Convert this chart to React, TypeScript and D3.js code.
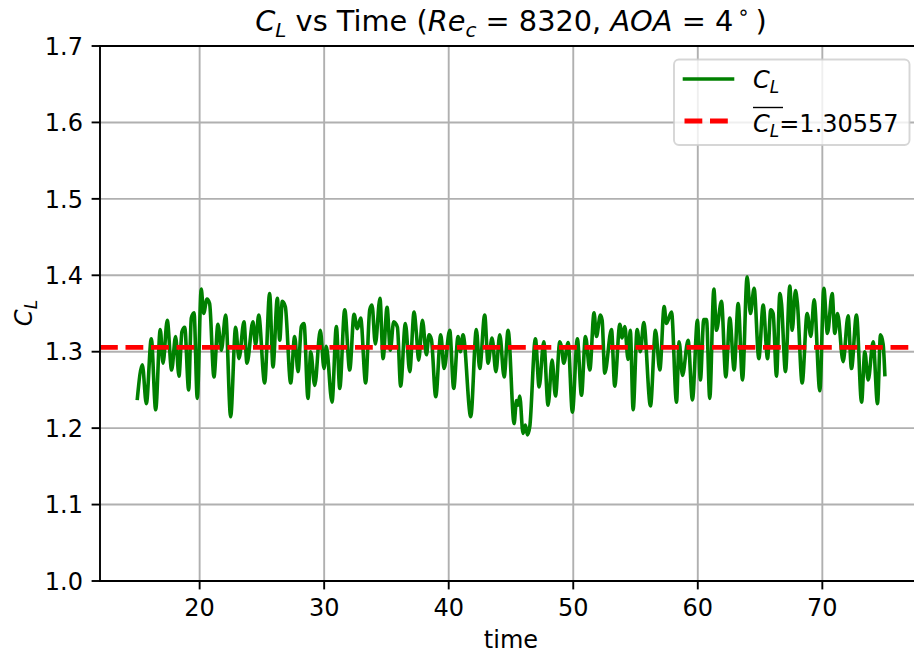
import React from "react";
import * as d3 from "d3";

// time samples (turning points)
const times = [
  15.0, 15.4, 15.72, 16.12, 16.47, 16.84, 17.06, 17.4, 17.75, 18.07, 18.34, 18.58, 18.8, 19.12, 19.33, 19.55, 19.81,
  20.13, 20.32, 20.59, 20.8, 21.15, 21.47, 21.74, 22.09, 22.49, 22.89, 23.16, 23.56, 23.8, 24.28, 24.5, 24.74,
  25.22, 25.62, 25.89, 26.24, 26.43, 26.64, 26.88, 27.31, 27.63, 27.9, 28.17, 28.38, 28.7, 28.92, 29.24, 29.69, 29.99,
  30.17, 30.63, 30.98, 31.25, 31.65, 32.05, 32.4, 32.66, 32.93, 33.33, 33.66, 33.84, 34.11, 34.48, 34.73,
  35.05, 35.31, 35.58, 35.88, 36.14, 36.52, 36.87, 37.22, 37.4, 37.59, 37.89, 38.21, 38.42, 38.61, 38.96, 39.36, 39.63,
  40.08, 40.4, 40.75, 40.94, 41.15, 41.77, 42.22, 42.49, 42.89, 43.16, 43.48, 43.79, 44.1, 44.45, 44.77,
  45.25, 45.44, 45.57, 45.7, 45.97, 46.16, 46.32, 46.51, 46.96, 47.26, 47.63, 47.98, 48.3, 48.57, 48.92, 49.05, 49.24, 49.59, 49.93,
  50.33, 50.66, 50.98, 51.33, 51.67, 51.86, 52.18, 52.32, 52.53, 53.07, 53.33, 53.74, 53.92, 54.14, 54.4, 54.58, 54.81,
  55.13, 55.39, 55.66, 56.2, 56.6, 56.95, 57.3, 57.48, 57.89, 58.29, 58.5, 58.77, 59.22, 59.57, 59.97,
  60.21, 60.48, 60.7, 60.96, 61.29, 61.5, 61.9, 62.25, 62.57, 62.92, 63.24, 63.59, 63.96, 64.23, 64.52,
  64.9, 65.25, 65.6, 65.86, 66.05, 66.32, 66.59, 66.72, 67.04, 67.39, 67.58, 67.84, 68.0, 68.38, 68.78, 69.08, 69.34, 69.8,
  70.12, 70.41, 70.79, 71.0, 71.22, 71.67, 72.07, 72.34, 72.74, 73.15, 73.41, 73.68, 74.08, 74.43, 74.67, 74.88, 75.02,
];

const clValues = [
  1.239, 1.283, 1.232, 1.317, 1.224, 1.329, 1.285, 1.341, 1.276, 1.32, 1.268, 1.326, 1.332, 1.25, 1.344, 1.351, 1.239,
  1.382, 1.35, 1.369, 1.363, 1.267, 1.336, 1.302, 1.348, 1.215, 1.332, 1.291, 1.339, 1.285, 1.339, 1.309, 1.348,
  1.259, 1.376, 1.28, 1.37, 1.315, 1.366, 1.359, 1.259, 1.32, 1.274, 1.333, 1.337, 1.239, 1.3, 1.256, 1.328, 1.278,
  1.307, 1.234, 1.333, 1.252, 1.355, 1.276, 1.349, 1.33, 1.344, 1.259, 1.355, 1.361, 1.31, 1.37, 1.291,
  1.358, 1.302, 1.339, 1.332, 1.255, 1.337, 1.274, 1.352, 1.325, 1.289, 1.341, 1.296, 1.322, 1.316, 1.241, 1.322, 1.278,
  1.328, 1.252, 1.32, 1.3, 1.322, 1.215, 1.329, 1.278, 1.348, 1.285, 1.318, 1.274, 1.322, 1.267, 1.328,
  1.206, 1.236, 1.23, 1.242, 1.193, 1.204, 1.191, 1.202, 1.317, 1.254, 1.313, 1.23, 1.289, 1.242, 1.313, 1.307, 1.285, 1.312, 1.221,
  1.317, 1.243, 1.32, 1.276, 1.351, 1.32, 1.348, 1.341, 1.272, 1.329, 1.255, 1.336, 1.318, 1.333, 1.29, 1.328, 1.224,
  1.329, 1.3, 1.338, 1.229, 1.328, 1.276, 1.359, 1.337, 1.352, 1.234, 1.313, 1.269, 1.315, 1.237, 1.341,
  1.263, 1.342, 1.342, 1.239, 1.382, 1.328, 1.366, 1.267, 1.344, 1.276, 1.363, 1.263, 1.398, 1.35, 1.383,
  1.291, 1.361, 1.291, 1.355, 1.35, 1.268, 1.376, 1.363, 1.274, 1.386, 1.328, 1.38, 1.363, 1.259, 1.35, 1.32, 1.368, 1.249,
  1.383, 1.324, 1.376, 1.324, 1.35, 1.287, 1.347, 1.278, 1.348, 1.234, 1.3, 1.263, 1.313, 1.232, 1.322, 1.31, 1.27,
];

const meanCL = 1.30557;
const meanLabel = "1.30557";

const xTicks = [20, 30, 40, 50, 60, 70];
const xTickLabels = ["20", "30", "40", "50", "60", "70"];
const yTicks = [1.0, 1.1, 1.2, 1.3, 1.4, 1.5, 1.6, 1.7];
const yTickLabels = ["1.0", "1.1", "1.2", "1.3", "1.4", "1.5", "1.6", "1.7"];

const FONT = "'DejaVu Sans', sans-serif";

export default function App() {
  const W = 914;
  const H = 657;
  const left = 100;
  const top = 46;
  const bottom = 581;
  const right = 100 + 66 * 12.454;

  const x = d3.scaleLinear().domain([12, 78]).range([left, right]);
  const y = d3.scaleLinear().domain([1.0, 1.7]).range([bottom, top]);

  const pts: [number, number][] = times.map((t, i) => [t, clValues[i]]);
  const linePath =
    d3
      .line<[number, number]>()
      .x((d) => x(d[0]))
      .y((d) => y(d[1]))
      .curve(d3.curveMonotoneX)(pts) || "";

  const gridColor = "#b0b0b0";
  const fs = 24;
  const subFs = 17;
  const tickLen = 8.4;

  return (
    <svg
      width={W}
      height={H}
      viewBox={`0 0 ${W} ${H}`}
      style={{ position: "absolute", left: 0, top: 0, background: "#fff" }}
      fontFamily={FONT}
    >
      <rect x={0} y={0} width={W} height={H} fill="#fff" />
      <defs>
        <clipPath id="plotClip">
          <rect x={left} y={top} width={right - left} height={bottom - top} />
        </clipPath>
      </defs>

      {/* grid */}
      <g stroke={gridColor} strokeWidth={1.9}>
        {xTicks.map((t) => (
          <line key={"gx" + t} x1={x(t)} x2={x(t)} y1={top} y2={bottom} />
        ))}
        {yTicks.map((t) => (
          <line key={"gy" + t} x1={left} x2={right} y1={y(t)} y2={y(t)} />
        ))}
      </g>

      {/* data */}
      <g clipPath="url(#plotClip)">
        <path d={linePath} fill="none" stroke="#008000" strokeWidth={3.6} strokeLinejoin="round" strokeLinecap="square" />
        <line
          x1={x(12)}
          x2={x(78)}
          y1={y(meanCL)}
          y2={y(meanCL)}
          stroke="#ff0000"
          strokeWidth={4.8}
          strokeDasharray="17.8 7.7"
        />
      </g>

      {/* spines */}
      <g stroke="#000" strokeWidth={1.9} fill="none">
        <line x1={left} x2={left} y1={top} y2={bottom} strokeLinecap="square" />
        <line x1={left} x2={right} y1={bottom} y2={bottom} strokeLinecap="square" />
        <line x1={left} x2={right} y1={top} y2={top} strokeLinecap="square" />
        <line x1={right} x2={right} y1={top} y2={bottom} />
      </g>

      {/* x ticks */}
      <g>
        {xTicks.map((t, i) => (
          <g key={"xt" + t}>
            <line x1={x(t)} x2={x(t)} y1={bottom} y2={bottom + tickLen} stroke="#000" strokeWidth={1.9} />
            <text x={x(t)} y={616} fontSize={fs} textAnchor="middle" fill="#000">
              {xTickLabels[i]}
            </text>
          </g>
        ))}
      </g>

      {/* y ticks */}
      <g>
        {yTicks.map((t, i) => (
          <g key={"yt" + t}>
            <line x1={left - tickLen} x2={left} y1={y(t)} y2={y(t)} stroke="#000" strokeWidth={1.9} />
            <text x={83} y={y(t) + 8.7} fontSize={fs} textAnchor="end" fill="#000">
              {yTickLabels[i]}
            </text>
          </g>
        ))}
      </g>

      {/* axis labels */}
      <text x={(left + right) / 2} y={648} fontSize={fs} textAnchor="middle" fill="#000">
        time
      </text>
      <text transform={`translate(31.5, 313) rotate(-90)`} fontSize={fs} textAnchor="middle" fill="#000">
        <tspan fontStyle="italic">C</tspan>
        <tspan fontStyle="italic" fontSize={subFs} dy={5}>L</tspan>
      </text>

      {/* title */}
      <text x={(left + right) / 2} y={31} fontSize={28.8} textAnchor="middle" fill="#000">
        <tspan fontStyle="italic">C</tspan>
        <tspan fontStyle="italic" fontSize={20} dy={6}>L</tspan>
        <tspan dy={-6}> vs Time (</tspan>
        <tspan fontStyle="italic">Re</tspan>
        <tspan fontStyle="italic" fontSize={20} dy={6}>c</tspan>
        <tspan dy={-6}> = 8320, </tspan>
        <tspan fontStyle="italic">AOA</tspan>
        <tspan> = 4</tspan>
        <tspan fontSize={20} dy={-12}>{"\u2009\u2218"}</tspan>
        <tspan dy={12}>{"\u2009)"}</tspan>
      </text>

      {/* legend */}
      <g>
        <rect
          x={674}
          y={59.5}
          width={235.5}
          height={85.5}
          rx={5}
          fill="#fff"
          fillOpacity={0.8}
          stroke="#cccccc"
          strokeOpacity={0.8}
          strokeWidth={1.9}
        />
        <line x1={684.5} x2={732.5} y1={79} y2={79} stroke="#008000" strokeWidth={3.6} strokeLinecap="square" />
        <text x={753} y={88} fontSize={fs} fill="#000">
          <tspan fontStyle="italic">C</tspan>
          <tspan fontStyle="italic" fontSize={subFs} dy={5}>L</tspan>
        </text>
        <line x1={684.5} x2={732.5} y1={121} y2={121} stroke="#ff0000" strokeWidth={4.8} strokeDasharray="17.8 7.7" />
        <line x1={753} x2={783} y1={107.5} y2={107.5} stroke="#000" strokeWidth={1.4} />
        <text x={753} y={131.5} fontSize={fs} fill="#000">
          <tspan fontStyle="italic">C</tspan>
          <tspan fontStyle="italic" fontSize={subFs} dy={5}>L</tspan>
          <tspan dy={-5}>{"=" + meanLabel}</tspan>
        </text>
      </g>
    </svg>
  );
}
